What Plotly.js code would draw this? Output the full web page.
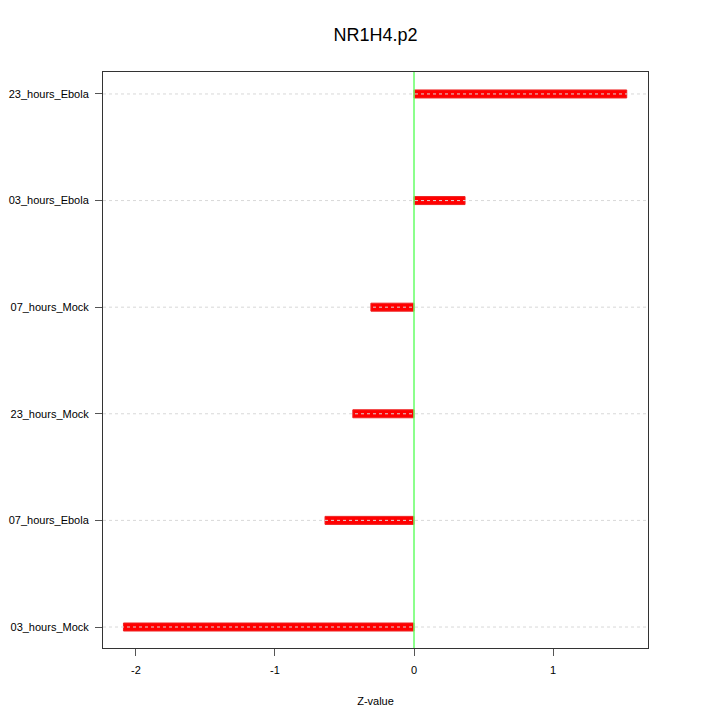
<!DOCTYPE html>
<html><head><meta charset="utf-8">
<script src="https://cdn.plot.ly/plotly-3.0.1.min.js"></script>
<style>body{margin:0;background:#fff}#c{width:720px;height:720px}</style>
</head><body><div id="c"></div>
<script>
const categories = ["03_hours_Mock","07_hours_Ebola","23_hours_Mock","07_hours_Mock","03_hours_Ebola","23_hours_Ebola"];
const zvalues = [-2.09, -0.64, -0.44, -0.31, 0.367, 1.53];
const xTicks = [-2, -1, 0, 1];

const trace = {
  type: 'bar', orientation: 'h',
  y: categories, x: zvalues,
  width: 0.075,
  marker: {color: '#ff0000', line: {color: '#ee2222', width: 1}},
  hoverinfo: 'x+y'
};

const shapes = categories.map(c => ({
  type: 'line', xref: 'paper', yref: 'y', x0: 0, x1: 1, y0: c, y1: c,
  line: {color: '#d8d8d8', width: 1, dash: 'dot'}, layer: 'above'
}));
shapes.push({type: 'line', xref: 'x', yref: 'paper', x0: 0, x1: 0, y0: 0, y1: 1,
  line: {color: '#66ff66', width: 1.5}, layer: 'above'});

const layout = {
  width: 720, height: 720,
  margin: {l: 103, r: 72, t: 72, b: 72},
  paper_bgcolor: '#fff', plot_bgcolor: '#fff',
  font: {family: 'Liberation Sans, Arial, sans-serif', size: 11, color: '#000'},
  title: {text: 'NR1H4.p2', xref: 'paper', x: 0.5, xanchor: 'center', yref: 'container', y: 0.952, yanchor: 'middle',
    font: {size: 18, color: '#000'}},
  showlegend: false,
  bargap: 0,
  xaxis: {
    range: [-2.237, 1.683], tickvals: xTicks, ticktext: xTicks.map(String),
    showgrid: false, zeroline: false, showline: true, mirror: true,
    linecolor: '#333', linewidth: 1, ticks: 'outside', ticklen: 7, tickcolor: '#555',
    ticklabelstandoff: 5,
    title: {text: 'Z-value', font: {size: 11}, standoff: 22}
  },
  yaxis: {
    type: 'category', range: [-0.197, 5.206],
    showgrid: false, zeroline: false, showline: true, mirror: true,
    linecolor: '#333', linewidth: 1, ticks: 'outside', ticklen: 7, tickcolor: '#555',
    ticklabelstandoff: 4
  },
  shapes: shapes
};
Plotly.newPlot('c', [trace], layout, {displayModeBar: false, staticPlot: true});
</script></body></html>
